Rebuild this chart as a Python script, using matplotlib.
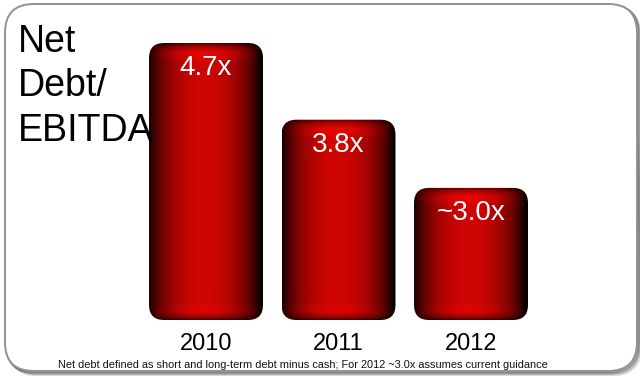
import numpy as np
import matplotlib
matplotlib.use("Agg")
from matplotlib import pyplot as plt
from matplotlib.patches import FancyBboxPatch

plt.rcParams['font.family'] = ['Liberation Sans', 'DejaVu Sans']

# ---------------------------------------------------------------------------
# Data
# ---------------------------------------------------------------------------
years = ["2010", "2011", "2012"]
leverage = [4.7, 3.8, 3.0]
labels = ["4.7x", "3.8x", "~3.0x"]
footnote = ("Net debt defined as short and long-term debt minus cash; "
            "For 2012 ~3.0x assumes current guidance")

base = 1.45          # value at the bottom edge of the bars
bar_w = 0.86         # bar width in category units
corner_px = 15       # bar corner radius (pixels)

W, H, DPI = 640, 376, 100

# ---------------------------------------------------------------------------
# Figure, frame and axes
# ---------------------------------------------------------------------------
fig = plt.figure(figsize=(W / DPI, H / DPI), dpi=DPI)
fig.patch.set_facecolor("white")

# soft shadow on the lower right of the rounded frame
for k, a in enumerate([0.10, 0.14, 0.20, 0.28]):
    off = 4 - k
    sh = FancyBboxPatch(((5 + off) / W, (5 - off) / H), 632 / W, 367 / H,
                        boxstyle="round,pad=0,rounding_size=0.045",
                        mutation_aspect=W / H, transform=fig.transFigure,
                        facecolor="none", edgecolor=(0, 0, 0, a), lw=2.0,
                        zorder=-2)
    fig.patches.append(sh)
frame = FancyBboxPatch((5 / W, 5 / H), 632 / W, 367 / H,
                       boxstyle="round,pad=0,rounding_size=0.045",
                       mutation_aspect=W / H, transform=fig.transFigure,
                       facecolor="white", edgecolor="#929292", lw=1.4,
                       zorder=-1)
fig.patches.append(frame)

x = np.arange(len(years))
ax = fig.add_axes([0, 56 / H, 1, 277 / H])
ax.set_xlim(-206 / 132.5, (W - 206) / 132.5)
ax.set_ylim(base, max(leverage))
ax.patch.set_visible(False)
for s in ax.spines.values():
    s.set_visible(False)
ax.set_yticks([])
ax.set_xticks(x, years)
ax.tick_params(axis="x", length=0, pad=9, labelsize=17)

# pixel scale of the data units
px_per_x = W / (ax.get_xlim()[1] - ax.get_xlim()[0])
px_per_y = 277 / (ax.get_ylim()[1] - ax.get_ylim()[0])


def bar_image(h_px, w_px):
    # horizontal cylinder shading: black edges, red middle, right side a bit darker
    u = np.linspace(-1, 1, w_px) + 0.03
    prof = np.clip(1 - np.abs(u) ** 2.1, 0, 1) ** 0.8
    # darker rim along top and bottom edges
    yy = np.arange(h_px)
    d = np.minimum(yy, h_px - 1 - yy)
    rim = 1 - 0.6 * np.exp(-d / 3.5)
    # faint glossy bands just inside the top and bottom
    gloss = (1 + 0.16 * np.exp(-((yy - 10) / 6.0) ** 2)
             + 0.12 * np.exp(-((h_px - 1 - yy - 9) / 5.0) ** 2))
    r = 0.81 * prof[None, :] * rim[:, None] * gloss[:, None]
    g = 0.02 * prof[None, :] * rim[:, None]
    img = np.dstack([np.clip(r, 0, 1), g, g * 0.6])
    return img


for xi, v, lab in zip(x, leverage, labels):
    x0, x1 = xi - bar_w / 2, xi + bar_w / 2
    h_px = int(round((v - base) * px_per_y))
    w_px = int(round(bar_w * px_per_x))
    img = bar_image(h_px, w_px)
    im = ax.imshow(img, extent=(x0, x1, base, v), aspect="auto",
                   origin="upper", interpolation="bilinear", zorder=2)
    clip = FancyBboxPatch((x0, base), bar_w, v - base,
                          boxstyle="round,pad=0,rounding_size=%f" % (corner_px / px_per_x),
                          mutation_aspect=px_per_x / px_per_y,
                          transform=ax.transData, facecolor="none", edgecolor="none")
    ax.add_patch(clip)
    im.set_clip_path(clip)
    ax.annotate(lab, (xi, v), xytext=(0, -18), textcoords="offset points",
                ha="center", va="center", color="white", fontsize=20, zorder=3)

ax.set_xlim(-206 / 132.5, (W - 206) / 132.5)
ax.set_ylim(base, max(leverage))

fig.text(18 / W, 1 - 24 / H, "Net\nDebt/\nEBITDA", ha="left", va="top",
         fontsize=27, linespacing=1.3, color="black", zorder=10)
fig.text(303 / W, 1 - 365 / H, footnote, ha="center", va="center",
         fontsize=7.9, color="#111111")

fig.savefig("out.png", dpi=DPI, facecolor="white")
